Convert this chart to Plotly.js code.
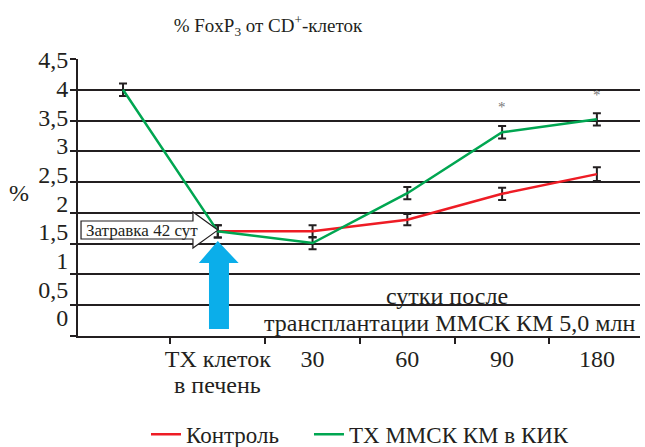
<!DOCTYPE html>
<html>
<head>
<meta charset="utf-8">
<script src="https://cdn.plot.ly/plotly-3.0.1.min.js"></script>
<style>
  html, body { margin: 0; padding: 0; background: #fff; }
  #chart { width: 645px; height: 447px; }
</style>
</head>
<body>
<div id="chart"></div>
<script>
// Time points along the x axis (first point is the baseline before injury)
const categories = [' ', 'ТХ клеток', '30', '60', '90', '180'];
const firstLabelSecondLine = 'в печень';

// % FoxP3 of CD+ cells, mean values
const controlValues = [null, 1.7, 1.7, 1.89, 2.31, 2.63];
const treatedValues = [4.0, 1.7, 1.51, 2.32, 3.31, 3.52];

// Error bar half-widths
const controlErrors = [null, 0.1, 0.1, 0.09, 0.1, 0.11];
const treatedErrors = [0.1, 0.1, 0.1, 0.1, 0.1, 0.1];

const seriesNames = ['Контроль', 'ТХ ММСК КМ в КИК'];
const yTickLabels = ['0', '0,5', '1', '1,5', '2', '2,5', '3', '3,5', '4', '4,5'];
const yTickValues = [0, 0.5, 1, 1.5, 2, 2.5, 3, 3.5, 4, 4.5];

// Significance marks above the treated series
const starCategories = [4, 5];
const starValues = [3.72, 3.91];

const INK = '#231F20';
const RED = '#EE1C25';
const GREEN = '#00A651';
const SERIF = 'Liberation Serif';
const FS = 24;

const errStyle = (arr) => ({
  type: 'data', array: arr, visible: true,
  color: INK, thickness: 2, width: 4
});

const traces = [
  {
    x: categories, y: controlValues, name: seriesNames[0],
    type: 'scatter', mode: 'lines',
    line: { color: RED, width: 2.5 },
    error_y: errStyle(controlErrors),
    connectgaps: false, legend: 'legend'
  },
  {
    x: categories, y: treatedValues, name: seriesNames[1],
    type: 'scatter', mode: 'lines',
    line: { color: GREEN, width: 2.5 },
    error_y: errStyle(treatedErrors), legend: 'legend2'
  }
];

// Callout arrow "Затравка 42 сут" pointing at the transplantation point,
// and the blue arrow marking the transplantation moment
const shapes = [
  {
    type: 'path', xref: 'x', yref: 'y',
    path: 'M -0.443 1.868 L 0.738 1.868 L 0.738 2.015 L 1.0 1.72 L 0.738 1.43 L 0.738 1.576 L -0.443 1.576 Z',
    line: { color: INK, width: 1.2 }, fillcolor: '#ffffff', layer: 'above'
  },
  {
    type: 'path', xref: 'x', yref: 'y',
    path: 'M 1.0 1.543 L 1.22 1.186 L 1.118 1.186 L 1.118 0.114 L 0.907 0.114 L 0.907 1.186 L 0.80 1.186 Z',
    line: { width: 0 }, fillcolor: '#0BAEEA', layer: 'above'
  }
];

const annotations = [
  { xref: 'x', yref: 'y', x: 0.2, y: 1.72, text: 'Затравка 42 сут', showarrow: false,
    font: { family: SERIF, size: 17, color: INK } },
  { xref: 'x', yref: 'y', x: 3.42, y: 0.65, text: 'сутки после', showarrow: false,
    font: { family: SERIF, size: FS, color: INK } },
  { xref: 'x', yref: 'y', x: 3.44, y: 0.21, text: 'трансплантации ММСК КМ 5,0 млн', showarrow: false,
    font: { family: SERIF, size: FS, color: INK } },
  { xref: 'paper', yref: 'paper', x: -0.105, y: 0.516, xanchor: 'center', yanchor: 'middle',
    text: '%', showarrow: false, font: { family: SERIF, size: FS, color: INK } },
  { xref: 'x', yref: 'paper', x: 1, y: -0.178, xanchor: 'center', yanchor: 'middle',
    text: firstLabelSecondLine, showarrow: false, font: { family: SERIF, size: FS, color: INK } }
];
starCategories.forEach((c, i) => {
  annotations.push({ xref: 'x', yref: 'y', x: c, y: starValues[i], text: '*', showarrow: false,
    font: { family: SERIF, size: 15, color: '#777777' } });
});

const legendStyle = (xPos) => ({
  orientation: 'h', x: xPos, y: -0.355, xanchor: 'left', yanchor: 'middle',
  font: { family: SERIF, size: 23, color: INK },
  bgcolor: 'rgba(0,0,0,0)'
});

const layout = {
  width: 645, height: 447,
  margin: { l: 78, r: 5, t: 59, b: 111, autoexpand: false },
  paper_bgcolor: '#ffffff', plot_bgcolor: '#ffffff',
  font: { family: SERIF, color: INK, size: FS },
  title: {
    text: '% FoxP<sub>3</sub> от CD<sup>+</sup>-клеток',
    font: { family: SERIF, size: 19, color: INK },
    xref: 'container', x: 0.4155, xanchor: 'center',
    yref: 'container', y: 0.944, yanchor: 'middle'
  },
  xaxis: {
    type: 'category', range: [-0.475, 5.455], automargin: false,
    showline: true, linecolor: INK, linewidth: 2,
    ticks: 'outside', tickson: 'boundaries', ticklen: 6, tickwidth: 2, tickcolor: INK,
    tickangle: 0,
    showgrid: false, zeroline: false,
    tickfont: { family: SERIF, size: FS, color: INK }
  },
  yaxis: {
    range: [0, 4.5], tickvals: yTickValues, showticklabels: false, automargin: false,
    ticks: 'outside', ticklen: 6, tickwidth: 2, tickcolor: INK,
    showline: true, linecolor: INK, linewidth: 2,
    showgrid: true, gridcolor: INK, gridwidth: 2, zeroline: false
  },
  yaxis2: {
    overlaying: 'y', side: 'left', range: [-0.314, 4.517], automargin: false,
    tickvals: yTickValues, ticktext: yTickLabels,
    ticks: 'outside', ticklen: 4, tickcolor: 'rgba(0,0,0,0)',
    showline: false, showgrid: false, zeroline: false,
    tickfont: { family: SERIF, size: FS, color: INK }
  },
  showlegend: true,
  legend: legendStyle(0.121),
  legend2: legendStyle(0.411),
  shapes: shapes,
  annotations: annotations
};

// Invisible carrier so the label axis is rendered
traces.push({ x: [], y: [], yaxis: 'y2', showlegend: false, hoverinfo: 'skip', type: 'scatter' });

Plotly.newPlot('chart', traces, layout, { displayModeBar: false, staticPlot: true });
</script>
</body>
</html>
